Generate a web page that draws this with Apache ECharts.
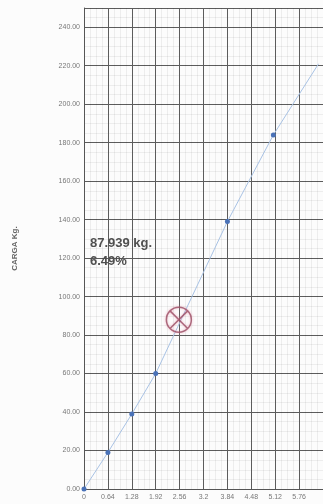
<!DOCTYPE html>
<html>
<head>
<meta charset="utf-8">
<script src="https://cdn.jsdelivr.net/npm/echarts@6/dist/echarts.min.js"></script>
<style>
  html, body { margin: 0; padding: 0; background: #fcfcfc; }
  #chart { width: 323px; height: 504px; }
</style>
</head>
<body>
<div id="chart"></div>
<script>
// deformation (x) vs load in kg (y)
const defX = [0, 0.64, 1.28, 1.92, 3.84, 5.07, 6.28];
const loadY = [0, 19, 39, 60, 139, 184, 221];
const showDot = [true, true, true, true, true, true, false];
// point of rupture marked with the red circle
const markX = [2.54];
const markY = [88];
const markText = ['87.939 kg.', '6.49%'];
const yName = 'CARGA Kg.';

const chart = echarts.init(document.getElementById('chart'));

const crossCircle = 'path://M0,-10A10,10 0 1,1 0,10A10,10 0 1,1 0,-10Z M-7.07,-7.07L7.07,7.07M7.07,-7.07L-7.07,7.07';

const minorLine = { show: true, lineStyle: { color: 'rgba(0,0,0,0.06)', width: 1, type: 'solid' } };

const option = {
  backgroundColor: '#fcfcfc',
  animation: false,
  grid: { left: 84, top: 8, right: -5, bottom: 15 },
  xAxis: {
    type: 'value',
    min: 0, max: 6.4, interval: 0.64,
    axisLine: { show: true, lineStyle: { color: '#555' } },
    axisTick: { show: false },
    axisLabel: {
      fontSize: 7, color: '#777', margin: 5, showMaxLabel: false,
      fontFamily: 'Liberation Sans',
      formatter: v => String(+v.toFixed(2))
    },
    splitLine: { show: true, lineStyle: { color: '#5c5c5c', width: 1, type: 'solid' } },
    minorTick: { show: false, splitNumber: 4 },
    minorSplitLine: minorLine
  },
  yAxis: {
    type: 'value',
    min: 0, max: 250, interval: 20,
    name: yName,
    nameLocation: 'middle',
    nameGap: 65,
    nameTextStyle: { fontSize: 8, color: '#666', fontWeight: 'bold', fontFamily: 'Liberation Sans' },
    axisLine: { show: true, lineStyle: { color: '#555' } },
    axisTick: { show: false },
    axisLabel: {
      fontSize: 7, color: '#777', margin: 4, showMaxLabel: false,
      fontFamily: 'Liberation Sans',
      formatter: v => v.toFixed(2)
    },
    splitLine: { show: true, lineStyle: { color: '#5c5c5c', width: 1, type: 'solid' } },
    minorTick: { show: false, splitNumber: 4 },
    minorSplitLine: minorLine
  },
  series: [
    {
      type: 'line',
      data: defX.map((x, i) => ({
        value: [x, loadY[i]],
        symbol: showDot[i] ? 'circle' : 'none'
      })),
      symbolSize: 5,
      itemStyle: { color: '#4a72b8' },
      lineStyle: { color: '#a8c2e4', width: 1 },
      z: 3
    },
    {
      type: 'scatter',
      data: markX.map((x, i) => [x, markY[i]]),
      symbol: crossCircle,
      symbolSize: 25,
      itemStyle: { color: 'none', borderColor: '#9a4a62', borderWidth: 1.5,
        shadowColor: 'rgba(230,120,150,0.6)', shadowBlur: 3 },
      z: 4
    }
  ],
  graphic: [
    {
      type: 'text', left: 90, top: 237, z: 10,
      style: { text: markText[0], fontSize: 13, fontWeight: 'bold', fill: '#505050',
        stroke: null, lineWidth: 0, fontFamily: 'Liberation Sans' }
    },
    {
      type: 'text', left: 90, top: 255, z: 10,
      style: { text: markText[1], fontSize: 13, fontWeight: 'bold', fill: '#505050',
        stroke: null, lineWidth: 0, fontFamily: 'Liberation Sans' }
    }
  ]
};

chart.setOption(option);
</script>
</body>
</html>
